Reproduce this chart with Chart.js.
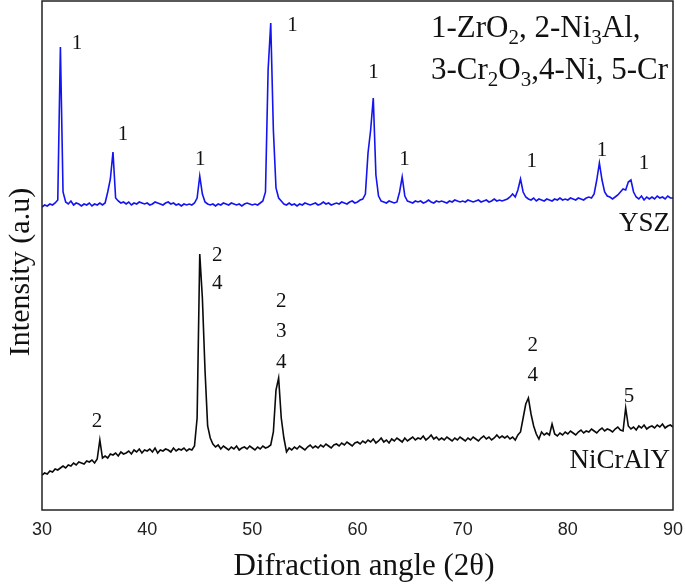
<!DOCTYPE html>
<html>
<head>
<meta charset="utf-8">
<script src="https://cdn.jsdelivr.net/npm/chart.js@4.4.0/dist/chart.umd.min.js"></script>
<style>
  html, body { margin: 0; padding: 0; background: #fff; }
</style>
</head>
<body>
<canvas id="xrdChart" width="685" height="586"></canvas>
<script>
// 2-theta positions, 0.25 deg step, one row = 2 deg
const angles = [
  30, 30.25, 30.5, 30.75, 31, 31.25, 31.5, 31.75,
  32, 32.25, 32.5, 32.75, 33, 33.25, 33.5, 33.75,
  34, 34.25, 34.5, 34.75, 35, 35.25, 35.5, 35.75,
  36, 36.25, 36.5, 36.75, 37, 37.25, 37.5, 37.75,
  38, 38.25, 38.5, 38.75, 39, 39.25, 39.5, 39.75,
  40, 40.25, 40.5, 40.75, 41, 41.25, 41.5, 41.75,
  42, 42.25, 42.5, 42.75, 43, 43.25, 43.5, 43.75,
  44, 44.25, 44.5, 44.75, 45, 45.25, 45.5, 45.75,
  46, 46.25, 46.5, 46.75, 47, 47.25, 47.5, 47.75,
  48, 48.25, 48.5, 48.75, 49, 49.25, 49.5, 49.75,
  50, 50.25, 50.5, 50.75, 51, 51.25, 51.5, 51.75,
  52, 52.25, 52.5, 52.75, 53, 53.25, 53.5, 53.75,
  54, 54.25, 54.5, 54.75, 55, 55.25, 55.5, 55.75,
  56, 56.25, 56.5, 56.75, 57, 57.25, 57.5, 57.75,
  58, 58.25, 58.5, 58.75, 59, 59.25, 59.5, 59.75,
  60, 60.25, 60.5, 60.75, 61, 61.25, 61.5, 61.75,
  62, 62.25, 62.5, 62.75, 63, 63.25, 63.5, 63.75,
  64, 64.25, 64.5, 64.75, 65, 65.25, 65.5, 65.75,
  66, 66.25, 66.5, 66.75, 67, 67.25, 67.5, 67.75,
  68, 68.25, 68.5, 68.75, 69, 69.25, 69.5, 69.75,
  70, 70.25, 70.5, 70.75, 71, 71.25, 71.5, 71.75,
  72, 72.25, 72.5, 72.75, 73, 73.25, 73.5, 73.75,
  74, 74.25, 74.5, 74.75, 75, 75.25, 75.5, 75.75,
  76, 76.25, 76.5, 76.75, 77, 77.25, 77.5, 77.75,
  78, 78.25, 78.5, 78.75, 79, 79.25, 79.5, 79.75,
  80, 80.25, 80.5, 80.75, 81, 81.25, 81.5, 81.75,
  82, 82.25, 82.5, 82.75, 83, 83.25, 83.5, 83.75,
  84, 84.25, 84.5, 84.75, 85, 85.25, 85.5, 85.75,
  86, 86.25, 86.5, 86.75, 87, 87.25, 87.5, 87.75,
  88, 88.25, 88.5, 88.75, 89, 89.25, 89.5, 89.75,
  90
];

// YSZ top coat (blue trace), arbitrary units
const yszIntensity = [
  303, 305, 304, 306, 305, 307, 310, 463,
  318, 308, 306, 309, 305, 307, 306, 304,
  306, 305, 307, 304, 306, 305, 307, 305,
  307, 318, 331, 358, 312, 309, 307, 308,
  306, 308, 305, 307, 306, 308, 307, 306,
  307, 305, 306, 308, 307, 306, 305, 307,
  308, 306, 307, 305, 306, 304, 306, 305,
  306, 305, 307, 312, 334, 316, 308, 306,
  305, 306, 304, 306, 305, 307, 306, 305,
  307, 306, 305, 306, 304, 306, 307, 306,
  305, 306, 305, 307, 309, 318, 440, 487,
  380, 322, 312, 309, 306, 305, 307, 305,
  306, 304, 306, 305, 307, 306, 305, 306,
  307, 305, 306, 308, 306, 307, 305, 306,
  307, 306, 308, 307, 306, 308, 309, 307,
  308, 310, 311, 316, 357, 380, 412, 335,
  314, 309, 308, 307, 309, 308, 307, 308,
  318, 333, 314, 309, 308, 307, 309, 308,
  309, 307, 308, 310, 308, 307, 309, 308,
  309, 308, 307, 309, 308, 310, 309, 308,
  309, 308, 310, 309, 308, 309, 310, 308,
  309, 310, 308, 309, 311, 309, 310, 309,
  310, 311, 313, 316, 313, 320, 331, 318,
  313, 311, 310, 312, 309, 311, 310, 309,
  311, 310, 309, 311, 310, 312, 310, 311,
  310, 312, 311, 310, 312, 311, 310, 312,
  313, 312, 316, 330, 347, 330, 318, 314,
  313, 311, 313, 315, 318, 321, 320, 328,
  330, 318, 313, 311, 314, 310, 313, 311,
  313, 311, 314, 312, 313, 311, 314, 312,
  312
];

// NiCrAlY bond coat (black trace)
const nicralyIntensity = [
  35, 37, 36, 39, 38, 41, 40, 42,
  44, 42, 45, 44, 47, 45, 48, 47,
  46, 49, 48, 50, 47, 51, 70, 52,
  54, 52, 56, 55, 57, 54, 58, 56,
  57, 59, 56, 60, 58, 61, 57, 60,
  59, 61, 58, 62, 57, 60, 59, 61,
  60, 58, 62, 59, 61, 60, 62, 59,
  61, 60, 64, 92, 256, 212, 140, 84,
  72, 66, 63, 65, 61, 64, 62, 60,
  63, 61, 64, 60, 62, 63, 61, 64,
  62, 60, 63, 61, 64, 62, 63, 65,
  78, 120, 132, 92, 72, 58, 62, 60,
  63, 61, 64, 62, 60, 63, 65, 62,
  64, 62, 65, 63, 66, 64, 62, 65,
  66, 64, 67, 65, 68, 66, 64, 67,
  68, 66, 69, 67, 70, 68, 71, 67,
  69, 72, 68, 70, 67, 71, 69, 72,
  70, 68, 72, 69, 71, 73, 70, 72,
  71, 74, 70, 72, 75, 71, 73, 70,
  72, 70, 73, 71, 69, 72, 70, 73,
  71, 69, 72, 70, 73, 71, 69, 72,
  74, 71, 73, 70, 72, 75, 72, 74,
  72, 74, 71, 73, 70, 75, 78, 92,
  106, 112, 96, 84, 76, 71, 78, 75,
  77, 75, 86, 76, 74, 77, 75, 78,
  76, 79, 77, 75, 78, 80, 77, 79,
  78, 81, 79, 77, 80, 82, 79, 81,
  80, 78, 81, 83, 80, 79, 102, 84,
  81, 83, 80, 84, 82, 85, 81, 83,
  84, 82, 85, 83, 86, 82, 84, 85,
  83
];

const xTicks = [30, 40, 50, 60, 70, 80, 90];

// phase marks: [angle, intensity, text]
const yszMarks = [
  [33.33, 467, '1'], [37.71, 376, '1'], [45.05, 351, '1'],
  [53.81, 485, '1'], [61.52, 438, '1'], [64.48, 351, '1'],
  [76.57, 349, '1'], [83.24, 360, '1'], [87.24, 347, '1']
];
const nicralyMarks = [
  [35.24, 89, '2'],
  [46.67, 255, '2'], [46.67, 227, '4'],
  [52.76, 209, '2'], [52.76, 179, '3'], [52.76, 148, '4'],
  [76.67, 165, '2'], [76.67, 135, '4'],
  [85.81, 114, '5']
];

const phaseLegend = ['1-ZrO_2, 2-Ni_3Al,', '3-Cr_2O_3,4-Ni, 5-Cr'];

const serif = '"Liberation Serif", "Times New Roman", serif';

// draws text where "_x" makes x a subscript
function drawSubText(ctx, str, x, y, size) {
  let cx = x;
  for (let i = 0; i < str.length; i++) {
    let ch = str[i];
    let sub = false;
    if (ch === '_') { sub = true; ch = str[++i]; }
    ctx.font = (sub ? Math.round(size * 0.68) : size) + 'px ' + serif;
    ctx.fillText(ch, cx, sub ? y + size * 0.22 : y);
    cx += ctx.measureText(ch).width;
  }
}

const decorPlugin = {
  id: 'decor',
  afterDatasetsDraw(chart) {
    const { ctx, chartArea: a, scales: { x, y } } = chart;
    ctx.save();
    ctx.strokeStyle = '#222';
    ctx.lineWidth = 1.5;
    ctx.strokeRect(a.left, a.top, a.right - a.left, a.bottom - a.top);

    ctx.fillStyle = '#111';
    ctx.textAlign = 'center';
    ctx.textBaseline = 'middle';
    ctx.font = '21px ' + serif;
    yszMarks.concat(nicralyMarks).forEach(m => {
      ctx.fillText(m[2], x.getPixelForValue(m[0]), y.getPixelForValue(m[1]));
    });

    ctx.textAlign = 'left';
    ctx.textBaseline = 'alphabetic';
    drawSubText(ctx, phaseLegend[0], 431, 37, 31);
    drawSubText(ctx, phaseLegend[1], 431, 79, 31);

    ctx.textAlign = 'right';
    ctx.font = '27px ' + serif;
    ctx.fillText('YSZ', a.right - 3, 231);
    ctx.fillText('NiCrAlY', a.right - 3, 468);

    // axis titles
    ctx.textAlign = 'center';
    ctx.font = '31px ' + serif;
    ctx.fillText('Difraction angle (2θ)', 364, 575);
    ctx.translate(29, 272);
    ctx.rotate(-Math.PI / 2);
    ctx.font = '30px ' + serif;
    ctx.fillText('Intensity (a.u)', 0, 0);
    ctx.restore();
  }
};

const data = {
  datasets: [{
    label: 'YSZ',
    data: angles.map((t, i) => ({ x: t, y: yszIntensity[i] })),
    borderColor: 'rgb(20, 20, 240)',
    borderWidth: 1.6,
    pointRadius: 0,
    tension: 0
  }, {
    label: 'NiCrAlY',
    data: angles.map((t, i) => ({ x: t, y: nicralyIntensity[i] })),
    borderColor: 'rgb(10, 10, 10)',
    borderWidth: 1.6,
    pointRadius: 0,
    tension: 0
  }]
};

const config = {
  type: 'line',
  data: data,
  options: {
    responsive: false,
    animation: false,
    layout: { padding: { top: 1, right: 12, left: 0, bottom: 0 } },
    plugins: {
      legend: { display: false },
      tooltip: { enabled: false }
    },
    scales: {
      x: {
        type: 'linear',
        min: 30,
        max: 90,
        afterBuildTicks: s => { s.ticks = xTicks.map(v => ({ value: v })); },
        afterFit: s => {
          s.height = 76;
          s.paddingLeft = 0;
          s.paddingRight = 0;
        },
        grid: { display: false, drawTicks: false },
        border: { display: false },
        ticks: {
          padding: 9,
          color: '#222',
          font: { family: '"Liberation Sans", Arial, sans-serif', size: 18 }
        }
      },
      y: {
        type: 'linear',
        min: 0,
        max: 509,
        afterFit: s => { s.width = 42; },
        grid: { display: false, drawTicks: false },
        border: { display: false },
        ticks: { display: false }
      }
    }
  },
  plugins: [decorPlugin]
};

const xrdChart = new Chart(document.getElementById('xrdChart'), config);
</script>
</body>
</html>
